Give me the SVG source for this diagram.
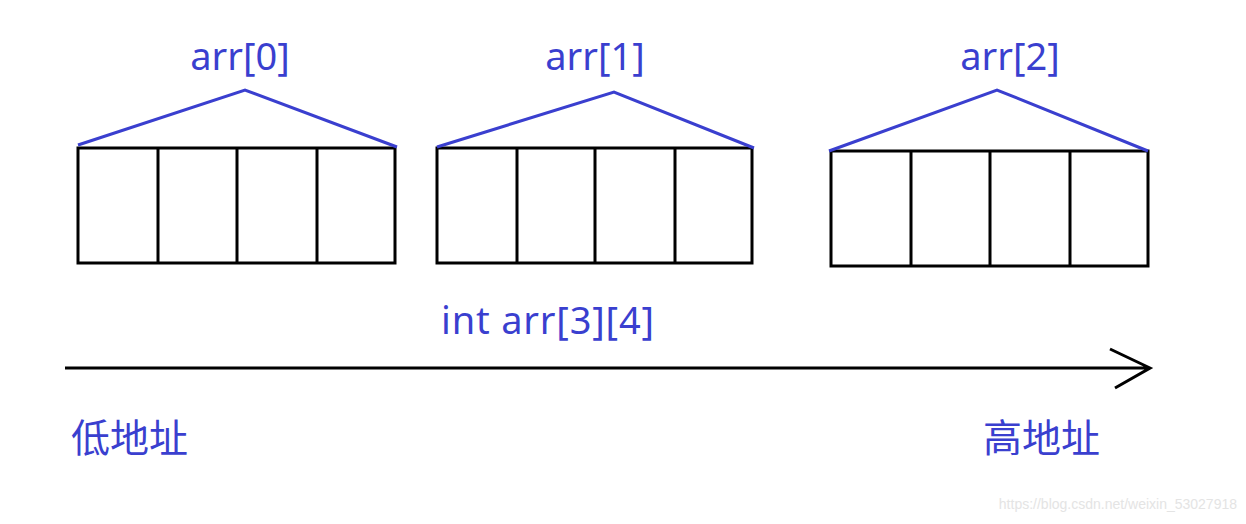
<svg xmlns="http://www.w3.org/2000/svg" width="1246" height="524" viewBox="0 0 1246 524">
<style>
.b{fill:none;stroke:#000;stroke-width:3}
.r{fill:none;stroke:#3a3fcf;stroke-width:3}
.t{fill:#3a3fcf;font-family:"Noto Sans","Noto Sans CJK SC",sans-serif;font-size:38px}
.c{fill:#3a3fcf;font-family:"Noto Sans CJK SC",sans-serif;font-size:39px}
</style>
<rect width="1246" height="524" fill="#fff"/>
<g id="arr0">
<path class="b" d="M78,148H395V263H78Z M158,148V263 M237,148V263 M317,148V263"/>
<path class="r" d="M78,145L245,90L397,147"/>
<text class="t" x="240" y="70" text-anchor="middle">arr[0]</text>
</g>
<g id="arr1">
<path class="b" d="M437,148H752V263H437Z M517,148V263 M595,148V263 M675,148V263"/>
<path class="r" d="M437,147L614,92L754,148"/>
<text class="t" x="595" y="70" text-anchor="middle">arr[1]</text>
</g>
<g id="arr2">
<path class="b" d="M831,151H1148V266H831Z M911,151V266 M990,151V266 M1070,151V266"/>
<path class="r" d="M829,151L997,90L1148,151"/>
<text class="t" x="1010" y="70" text-anchor="middle">arr[2]</text>
</g>
<text class="t" x="441" y="334" textLength="213">int arr[3][4]</text>
<g id="connectors">
<path class="b" d="M65,368H1150 M1110,349L1150,368L1115,388"/>
</g>
<text class="c" x="71" y="452">低地址</text>
<text class="c" x="983" y="452">高地址</text>
<text x="1237" y="509" text-anchor="end" font-family="Liberation Sans,sans-serif" font-size="14" fill="#e4e4e4">https://blog.csdn.net/weixin_53027918</text>
</svg>
